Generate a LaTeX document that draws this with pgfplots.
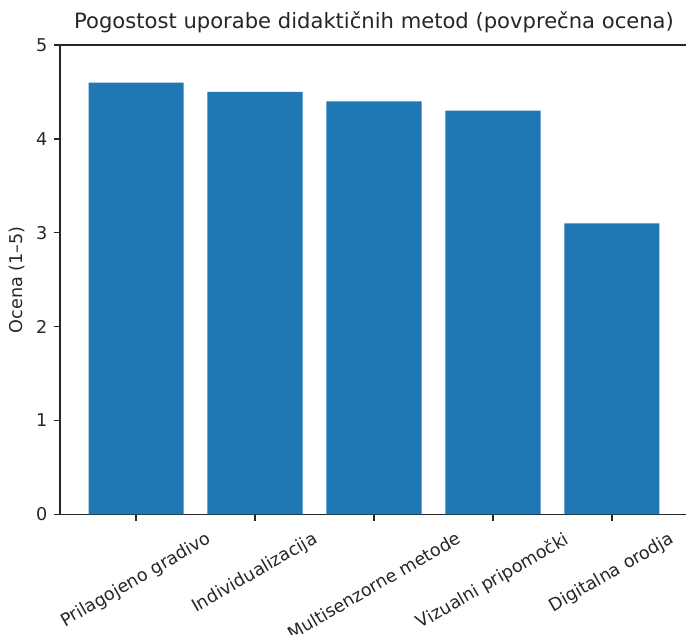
\documentclass[border=0pt]{standalone}
\usepackage{pgfplots}
\pgfplotsset{compat=1.18}
\usepackage{fontspec}
\setmainfont{DejaVu Sans}
\usepackage{graphicx}
\definecolor{mplblue}{HTML}{1F77B4}
\begin{document}
\begin{tikzpicture}
\useasboundingbox (0,0) rectangle (686pt,635pt);
\clip (0,0) rectangle (686pt,635pt);
\begin{axis}[
  at={(60pt,120.7pt)}, anchor=south west,
  scale only axis, width=628pt, height=469.3pt,
  xmin=-0.64, xmax=4.64, ymin=0, ymax=5,
  tick pos=left, tick align=outside, major tick length=6.2pt,
  xtick={0,1,2,3,4},
  xticklabels={\rotatebox{30}{Prilagojeno gradivo},\rotatebox{30}{Individualizacija},\rotatebox{30}{Multisenzorne metode},\rotatebox{30}{Vizualni pripomočki},\rotatebox{30}{Digitalna orodja}},
  ytick={0,1,2,3,4,5},
  /pgf/number format/assume math mode=true,
  axis line style={line width=1.4pt, black!85},
  every tick/.style={black!85, line width=1.4pt},
  tick label style={font=\fontsize{17.6}{20}\selectfont, text=black!85},
  xticklabel style={anchor=north, inner sep=0pt, yshift=-10pt},
  yticklabel style={anchor=east, inner sep=0pt, xshift=-6.2pt},
  title={Pogostost uporabe didaktičnih metod (povprečna ocena)},
  title style={font=\fontsize{21.1}{24}\selectfont, at={(rel axis cs:0.5,1)}, anchor=base, yshift=10.6pt, inner sep=0pt, text=black!85},
  ylabel={Ocena (1–5)},
  every axis y label/.style={font=\fontsize{17.6}{20}\selectfont, at={(rel axis cs:0,0.5)}, xshift=-35pt, rotate=90, anchor=south, inner sep=0pt, text=black!85},
]
\addplot[ybar, bar width=0.8, fill=mplblue, draw=none] coordinates {(0,4.6)(1,4.5)(2,4.4)(3,4.3)(4,3.1)};
\end{axis}
\end{tikzpicture}
\end{document}
